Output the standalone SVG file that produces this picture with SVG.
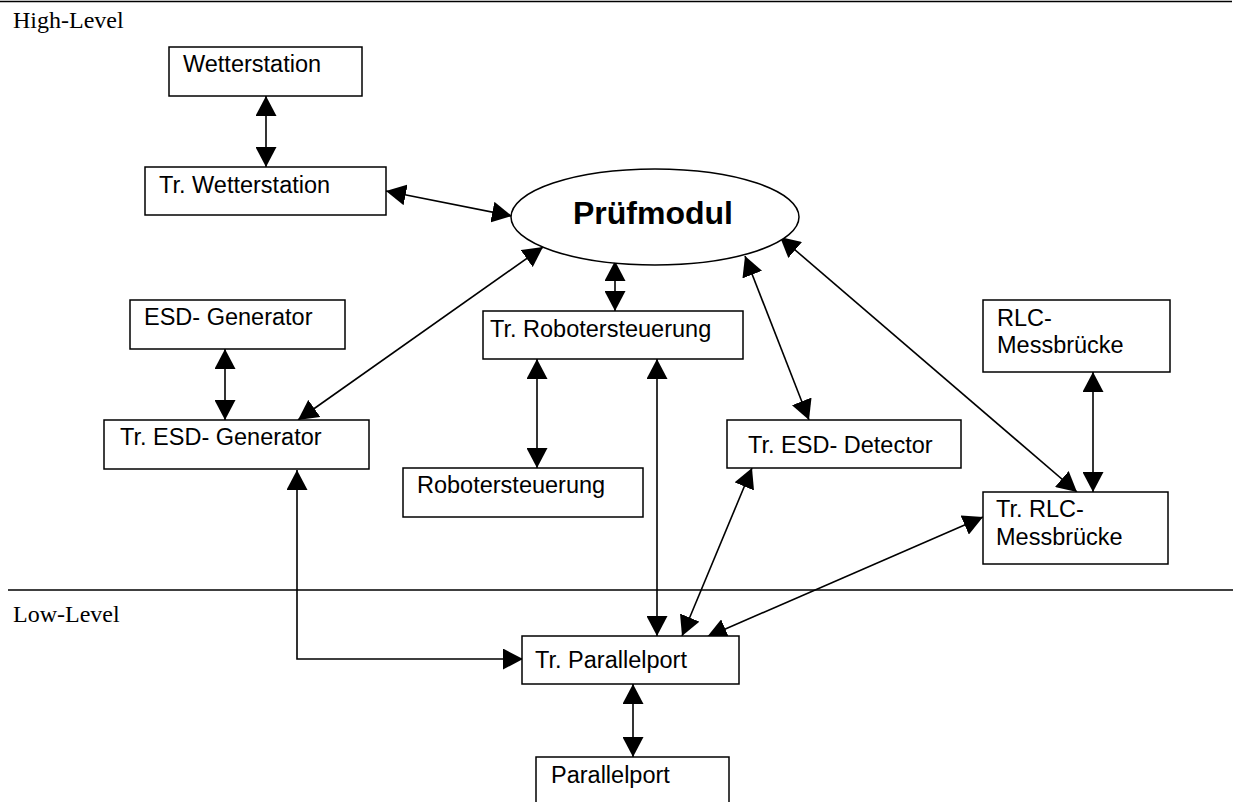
<svg xmlns="http://www.w3.org/2000/svg" width="1239" height="802" viewBox="0 0 1239 802">
  <style>
    .box { fill: #fff; stroke: #000; stroke-width: 1.5; }
    .lbl { font-family: "Liberation Sans", Arial, sans-serif; font-size: 23.5px; fill: #000; }
    .lvl { font-family: "Liberation Serif", "Times New Roman", serif; font-size: 24px; fill: #000; }
    .sep { stroke: #000; stroke-width: 1.6; }
    .con { fill: none; stroke: #000; stroke-width: 1.6; marker-start: url(#ah); marker-end: url(#ah); }
  </style>
  <defs>
    <marker id="ah" viewBox="0 0 20 21" refX="20" refY="10.5" markerWidth="20" markerHeight="21" markerUnits="userSpaceOnUse" orient="auto-start-reverse">
      <path d="M0,0 L20,10.5 L0,21 Z" fill="#000"/>
    </marker>
  </defs>
  <rect width="1239" height="802" fill="#fff"/>

  <!-- level separators -->
  <g id="levels">
    <line class="sep" x1="0" y1="1.5" x2="1232" y2="1.5"/>
    <text class="lvl" x="13" y="28">High-Level</text>
    <line class="sep" x1="8" y1="590" x2="1233" y2="590"/>
    <text class="lvl" x="13" y="622">Low-Level</text>
  </g>

  <!-- connectors -->
  <g id="connectors">
    <line class="con" x1="266" y1="96" x2="266" y2="167"/>
    <line class="con" x1="386" y1="191" x2="512" y2="216"/>
    <line class="con" x1="615" y1="261" x2="615" y2="311"/>
    <line class="con" x1="543" y1="247" x2="298" y2="420"/>
    <line class="con" x1="225" y1="349" x2="225" y2="420"/>
    <line class="con" x1="537" y1="359" x2="537" y2="468"/>
    <line class="con" x1="657" y1="359" x2="657" y2="636"/>
    <polyline class="con" points="297,470 297,659 523,659"/>
    <line class="con" x1="745" y1="256" x2="809" y2="420"/>
    <line class="con" x1="780" y1="237" x2="1077" y2="492"/>
    <line class="con" x1="1093" y1="372" x2="1093" y2="492"/>
    <line class="con" x1="752" y1="468" x2="682" y2="636"/>
    <line class="con" x1="983" y1="517" x2="707" y2="637"/>
    <line class="con" x1="633" y1="684" x2="633" y2="757"/>
  </g>

  <g id="pruefmodul">
    <ellipse class="box" cx="655" cy="217" rx="144" ry="48"/>
    <text x="573" y="224" font-family="Liberation Sans, Arial, sans-serif" font-size="32" font-weight="bold">Prüfmodul</text>
  </g>

  <g id="wetterstation">
    <rect class="box" x="169" y="47" width="193" height="49"/>
    <text class="lbl" x="183" y="72">Wetterstation</text>
  </g>
  <g id="tr-wetterstation">
    <rect class="box" x="145" y="167" width="241" height="48"/>
    <text class="lbl" x="159" y="193">Tr. Wetterstation</text>
  </g>

  <g id="esd-generator">
    <rect class="box" x="130" y="300" width="215" height="49"/>
    <text class="lbl" x="144" y="325">ESD- Generator</text>
  </g>
  <g id="tr-esd-generator">
    <rect class="box" x="104" y="420" width="265" height="49"/>
    <text class="lbl" x="120" y="445">Tr. ESD- Generator</text>
  </g>

  <g id="tr-robotersteuerung">
    <rect class="box" x="483" y="311" width="260" height="48"/>
    <text class="lbl" x="490" y="337">Tr. Robotersteuerung</text>
  </g>
  <g id="robotersteuerung">
    <rect class="box" x="403" y="468" width="240" height="49"/>
    <text class="lbl" x="417" y="493">Robotersteuerung</text>
  </g>

  <g id="tr-esd-detector">
    <rect class="box" x="727" y="420" width="234" height="48"/>
    <text class="lbl" x="748" y="453">Tr. ESD- Detector</text>
  </g>

  <g id="rlc-messbruecke">
    <rect class="box" x="983" y="300" width="187" height="72"/>
    <text class="lbl" x="997" y="326">RLC-</text>
    <text class="lbl" x="997" y="353">Messbrücke</text>
  </g>
  <g id="tr-rlc-messbruecke">
    <rect class="box" x="983" y="492" width="185" height="72"/>
    <text class="lbl" x="996" y="517">Tr. RLC-</text>
    <text class="lbl" x="996" y="545">Messbrücke</text>
  </g>

  <g id="tr-parallelport">
    <rect class="box" x="522" y="636" width="217" height="48"/>
    <text class="lbl" x="535" y="668">Tr. Parallelport</text>
  </g>
  <g id="parallelport">
    <rect class="box" x="536" y="757" width="193" height="60"/>
    <text class="lbl" x="551" y="783">Parallelport</text>
  </g>
</svg>
